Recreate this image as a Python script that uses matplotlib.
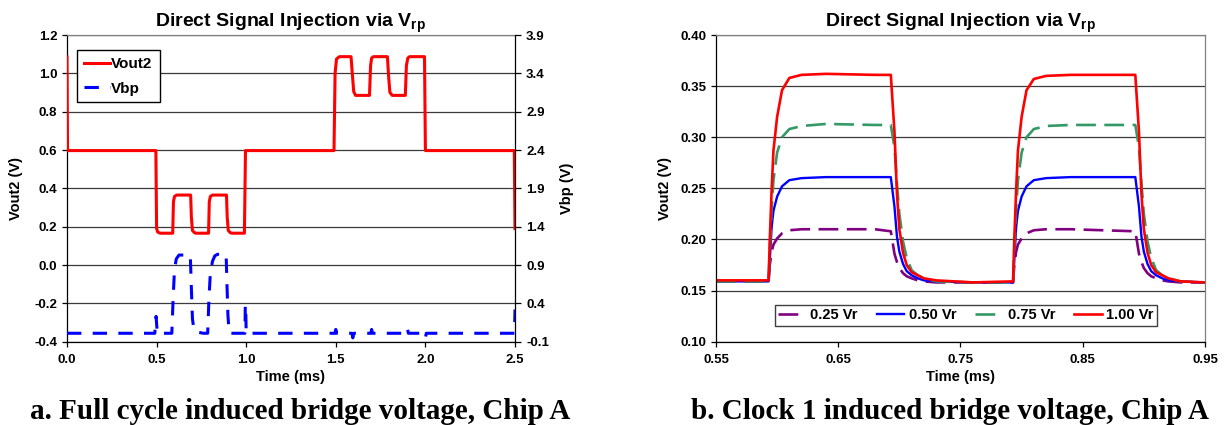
import matplotlib
matplotlib.use("Agg")
import matplotlib.pyplot as plt
from matplotlib.ticker import FixedLocator, FuncFormatter

plt.rcParams['font.family'] = ['Liberation Sans', 'DejaVu Sans']
plt.rcParams['font.weight'] = 'bold'
plt.rcParams['mathtext.fontset'] = 'custom'
plt.rcParams['mathtext.rm'] = 'Liberation Sans:bold'
plt.rcParams['mathtext.bf'] = 'Liberation Sans:bold'
plt.rcParams['mathtext.it'] = 'Liberation Sans:bold'

# ---- panel a: full cycle -------------------------------------------------
t_full = [0.000, 0.003, 0.496, 0.500, 0.506, 0.520, 0.590, 0.594, 0.600, 0.612,
          0.690, 0.694, 0.700, 0.712, 0.720, 0.790, 0.794, 0.800, 0.812, 0.890,
          0.894, 0.900, 0.912, 0.920, 0.990, 0.996, 1.490, 1.496, 1.504, 1.520,
          1.585, 1.592, 1.600, 1.610, 1.688, 1.694, 1.700, 1.710, 1.788, 1.795,
          1.802, 1.815, 1.888, 1.894, 1.902, 1.912, 1.995, 2.000, 2.496, 2.500]
vout2_full = [1.085, 0.597, 0.597, 0.190, 0.172, 0.166, 0.166, 0.330, 0.358, 0.365,
              0.365, 0.250, 0.180, 0.168, 0.166, 0.166, 0.330, 0.358, 0.365, 0.365,
              0.250, 0.180, 0.168, 0.166, 0.166, 0.597, 0.597, 1.000, 1.075, 1.087,
              1.087, 1.000, 0.905, 0.885, 0.885, 1.040, 1.080, 1.087, 1.087, 0.980,
              0.900, 0.885, 0.885, 1.040, 1.080, 1.087, 1.087, 0.597, 0.597, 0.190]

t_vbp = [0.000, 0.490, 0.497, 0.504, 0.585, 0.592, 0.600, 0.610, 0.625, 0.688,
         0.694, 0.700, 0.708, 0.715, 0.740, 0.760, 0.785, 0.792, 0.800, 0.812,
         0.825, 0.840, 0.888, 0.892, 0.898, 0.905, 0.993, 0.995, 0.997, 1.000,
         1.495, 1.500, 1.505, 1.590, 1.595, 1.600, 1.695, 1.700, 1.705, 1.895,
         1.900, 1.905, 1.995, 2.000, 2.005, 2.497, 2.500]
vbp = [0.01, 0.01, 0.23, 0.01, 0.01, 0.45, 0.85, 0.98, 1.03, 1.03,
       0.60, 0.20, 0.06, 0.03, 0.02, 0.01, 0.01, 0.45, 0.80, 0.95,
       1.02, 1.04, 1.04, 0.70, 0.25, 0.01, 0.01, 0.38, 0.38, 0.01,
       0.01, 0.06, 0.01, 0.01, -0.05, 0.01, 0.01, 0.06, 0.01, 0.01,
       0.07, 0.01, 0.01, -0.05, 0.01, 0.01, 0.32]

a_xticks = [0.0, 0.5, 1.0, 1.5, 2.0, 2.5]
a_yticks = [-0.4, -0.2, 0.0, 0.2, 0.4, 0.6, 0.8, 1.0, 1.2]
a_y2ticks = [-0.1, 0.4, 0.9, 1.4, 1.9, 2.4, 2.9, 3.4, 3.9]

# ---- panel b: clock 1 detail ---------------------------------------------
t_clk = [0.550, 0.593, 0.594, 0.5955, 0.597, 0.600, 0.604, 0.610, 0.620, 0.640,
         0.680, 0.693, 0.696, 0.698, 0.700, 0.703, 0.706, 0.710, 0.715, 0.720,
         0.730, 0.760, 0.793, 0.794, 0.7955, 0.797, 0.800, 0.804, 0.810, 0.820,
         0.840, 0.893, 0.896, 0.898, 0.900, 0.903, 0.906, 0.910, 0.915, 0.920,
         0.930, 0.950]
v_025 = [0.159, 0.159, 0.175, 0.188, 0.195, 0.201, 0.206, 0.209, 0.210, 0.210,
         0.210, 0.208, 0.186, 0.178, 0.172, 0.167, 0.164, 0.162, 0.160, 0.159,
         0.158, 0.158, 0.158, 0.175, 0.188, 0.195, 0.201, 0.206, 0.209, 0.210,
         0.210, 0.208, 0.186, 0.178, 0.172, 0.167, 0.164, 0.162, 0.160, 0.159,
         0.158, 0.158]
v_050 = [0.159, 0.159, 0.180, 0.212, 0.228, 0.242, 0.252, 0.258, 0.260, 0.261,
         0.261, 0.261, 0.232, 0.203, 0.188, 0.176, 0.169, 0.165, 0.162, 0.160,
         0.159, 0.158, 0.158, 0.180, 0.212, 0.228, 0.242, 0.252, 0.258, 0.260,
         0.261, 0.261, 0.232, 0.203, 0.188, 0.176, 0.169, 0.165, 0.162, 0.160,
         0.159, 0.158]
v_075 = [0.159, 0.159, 0.190, 0.230, 0.258, 0.285, 0.300, 0.308, 0.311, 0.313,
         0.312, 0.312, 0.290, 0.255, 0.225, 0.198, 0.182, 0.170, 0.165, 0.162,
         0.159, 0.158, 0.158, 0.190, 0.230, 0.258, 0.285, 0.300, 0.308, 0.311,
         0.312, 0.312, 0.290, 0.255, 0.225, 0.198, 0.182, 0.170, 0.165, 0.162,
         0.159, 0.158]
v_100 = [0.160, 0.160, 0.200, 0.248, 0.287, 0.320, 0.346, 0.358, 0.361, 0.362,
         0.361, 0.361, 0.305, 0.245, 0.210, 0.187, 0.175, 0.168, 0.165, 0.162,
         0.160, 0.158, 0.159, 0.200, 0.248, 0.287, 0.320, 0.346, 0.357, 0.360,
         0.361, 0.361, 0.305, 0.245, 0.210, 0.187, 0.175, 0.168, 0.165, 0.162,
         0.159, 0.158]
b_labels = ['0.25 Vr', '0.50 Vr', '0.75 Vr', '1.00 Vr']
b_xticks = [0.55, 0.65, 0.75, 0.85, 0.95]
b_yticks = [0.10, 0.15, 0.20, 0.25, 0.30, 0.35, 0.40]

TITLE = r'Direct Signal Injection via $\mathbf{V_{rp}}$'
TICK_FS = 9.5
LABEL_FS = 10.5
TITLE_FS = 14
GRID_C = '#3a3a3a'


def fmt(decimals):
    def f(v, pos):
        s = f"{v:.{decimals}f}"
        if s.startswith('-') and float(s) == 0:
            s = s[1:]
        return s
    return FuncFormatter(f)


def style_axes(ax):
    ax.tick_params(axis='both', which='major', direction='out', length=3.5,
                   width=0.9, labelsize=TICK_FS, color='black')
    ax.tick_params(axis='x', pad=5)
    ax.tick_params(axis='y', pad=3.5)
    for lab in ax.get_xticklabels() + ax.get_yticklabels():
        lab.set_fontweight('bold')
    ax.grid(axis='y', color=GRID_C, linewidth=0.9)
    ax.grid(axis='x', visible=False)
    ax.set_axisbelow(True)
    ax.spines['left'].set_color('black')
    ax.spines['bottom'].set_color('black')
    ax.spines['top'].set_color('#808080')
    ax.spines['right'].set_color('#808080')
    for s in ax.spines.values():
        s.set_linewidth(0.9)


fig = plt.figure(figsize=(12.28, 4.25), dpi=100)

# ---------------- panel a ----------------
axa = fig.add_axes([67 / 1228, 83.3 / 425, 448 / 1228, 306.7 / 425])
axa.plot(t_full, vout2_full, color='#FF0000', lw=2.2, label='Vout2',
         solid_joinstyle='round', zorder=3)
axa.set_xlim(0.0, 2.5)
axa.set_ylim(-0.4, 1.2)
axa.xaxis.set_major_locator(FixedLocator(a_xticks))
axa.yaxis.set_major_locator(FixedLocator(a_yticks))
axa.xaxis.set_major_formatter(fmt(1))
axa.yaxis.set_major_formatter(fmt(1))
style_axes(axa)
axa.spines['right'].set_visible(False)

axa2 = axa.twinx()
axa2.plot(t_vbp, vbp, color='#0000FF', lw=2.2, dashes=(4.7, 3.7), label='Vbp',
          zorder=3)
axa2.set_ylim(-0.1, 3.9)
axa2.yaxis.set_major_locator(FixedLocator(a_y2ticks))
axa2.yaxis.set_major_formatter(fmt(1))
axa2.tick_params(axis='y', direction='out', length=4, width=0.9,
                 labelsize=TICK_FS, pad=4)
for lab in axa2.get_yticklabels():
    lab.set_fontweight('bold')
for name, s in axa2.spines.items():
    s.set_visible(name == 'right')
axa2.spines['right'].set_color('black')
axa2.spines['right'].set_linewidth(0.9)

axa.set_title(TITLE, fontsize=TITLE_FS, fontweight='bold', pad=3)
axa.set_xlabel('Time (ms)', fontsize=LABEL_FS, fontweight='bold')
axa.set_ylabel('Vout2 (V)', fontsize=LABEL_FS, fontweight='bold')
axa2.set_ylabel('Vbp (V)', fontsize=LABEL_FS, fontweight='bold', rotation=90)
axa.xaxis.set_label_coords(0.5, -0.092)
axa.yaxis.set_label_coords(-0.098, 0.5)
axa2.yaxis.set_label_coords(1.100, 0.5)

h1, l1 = axa.get_legend_handles_labels()
h2, l2 = axa2.get_legend_handles_labels()
lga = axa2.legend(h1 + h2, l1 + l2, loc='upper left',
                  bbox_to_anchor=(0.0223, 0.951), borderaxespad=0,
                  fancybox=False, edgecolor='black', framealpha=1,
                  prop={'weight': 'bold', 'size': 11}, handlelength=1.7,
                  handletextpad=0.1, labelspacing=0.7, borderpad=0.45)
lga.get_frame().set_linewidth(1.0)

# ---------------- panel b ----------------
axb = fig.add_axes([716 / 1228, 83.3 / 425, 489 / 1228, 306.7 / 425])
axb.plot(t_clk, v_025, color='#800080', lw=1.9, dashes=(7.5, 3.2), label=b_labels[0])
axb.plot(t_clk, v_050, color='#0000FF', lw=1.7, label=b_labels[1])
axb.plot(t_clk, v_075, color='#339966', lw=1.9, dashes=(7.5, 3.2), label=b_labels[2])
axb.plot(t_clk, v_100, color='#FF0000', lw=1.9, label=b_labels[3])
axb.set_xlim(0.55, 0.95)
axb.set_ylim(0.10, 0.40)
axb.xaxis.set_major_locator(FixedLocator(b_xticks))
axb.yaxis.set_major_locator(FixedLocator(b_yticks))
axb.xaxis.set_major_formatter(fmt(2))
axb.yaxis.set_major_formatter(fmt(2))
style_axes(axb)

axb.set_title(TITLE, fontsize=TITLE_FS, fontweight='bold', pad=3)
axb.set_xlabel('Time (ms)', fontsize=LABEL_FS, fontweight='bold')
axb.set_ylabel('Vout2 (V)', fontsize=LABEL_FS, fontweight='bold')
axb.xaxis.set_label_coords(0.5, -0.092)
axb.yaxis.set_label_coords(-0.090, 0.5)

lgb = axb.legend(loc='lower center', bbox_to_anchor=(0.511, 0.051),
                 borderaxespad=0, ncol=4, fancybox=False, edgecolor='#404040',
                 framealpha=1, prop={'weight': 'bold', 'size': 10.5},
                 handlelength=1.9, handletextpad=0.3, columnspacing=1.3,
                 borderpad=0.25)
lgb.get_frame().set_linewidth(1.0)

# ---------------- captions ----------------
fig.text(300 / 1228, 1 - 419 / 425, 'a. Full cycle induced bridge voltage, Chip A',
         family='Liberation Serif', fontweight='bold', fontsize=21,
         ha='center', va='baseline')
fig.text(950 / 1228, 1 - 419 / 425, 'b. Clock 1 induced bridge voltage, Chip A',
         family='Liberation Serif', fontweight='bold', fontsize=21,
         ha='center', va='baseline')

fig.savefig('out.png', dpi=100)
